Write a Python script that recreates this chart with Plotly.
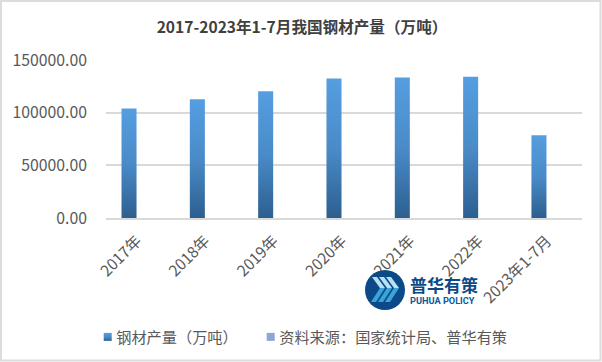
import plotly.graph_objects as go

W, H = 602, 362
categories = ["2017年", "2018年", "2019年", "2020年", "2021年", "2022年", "2023年1-7月"]
production = [104000, 112700, 120300, 132500, 133500, 134000, 78500]
title_text = "2017-2023年1-7月我国钢材产量（万吨）"
series_name = "钢材产量（万吨）"
source_name = "资料来源：国家统计局、普华有策"
tick_vals = [0, 50000, 100000, 150000]

FONT = "Noto Sans CJK SC"
L, R, T, B = 106, 582, 60, 218

fig = go.Figure()
fig.add_bar(x=categories, y=production, name=series_name, width=0.22,
            marker=dict(color="#3f7fbc", line_width=0))
fig.add_bar(x=categories, y=[None] * 7, name=source_name, width=0.22,
            marker=dict(color="#8ea5d6", line_width=0))


def px(x):
    return (x - L) / (R - L)


def py(y):
    return (B - y) / (B - T)


def path(points):
    return "M " + " L ".join(f"{px(a):.5f},{py(b):.5f}" for a, b in points) + " Z"


shapes = [
    dict(type="rect", xref="paper", yref="paper", x0=px(1), x1=px(600.5), y0=py(1), y1=py(360.5),
         line=dict(color="#dcdcdc", width=2), layer="below"),
    dict(type="circle", xref="paper", yref="paper", x0=px(365), x1=px(405), y0=py(310), y1=py(270),
         fillcolor="#0b4a86", line_width=0, layer="above"),
]
for x0 in (375, 382, 389):
    shapes.append(dict(type="path", xref="paper", yref="paper", layer="above", line_width=0, fillcolor="#3aa3d8",
                       path=path([(x0 + 5, 288), (x0 + 10, 288), (x0 + 1, 302), (x0 - 4, 302)])))
    shapes.append(dict(type="path", xref="paper", yref="paper", layer="above", line_width=0, fillcolor="#b5e2f4",
                       path=path([(x0 - 3, 277), (x0 + 2, 277), (x0 + 10, 288), (x0 + 5, 288)])))

annotations = [
    dict(text="<b>普华有策</b>", xref="paper", yref="paper", x=px(408), y=py(284), xanchor="left", yanchor="middle",
         showarrow=False, font=dict(family=FONT, size=17, color="#0b4a86")),
    dict(text="<b>PUHUA POLICY</b>", xref="paper", yref="paper", x=px(408), y=py(300), xanchor="left", yanchor="middle",
         showarrow=False, font=dict(family="Roboto", size=9.2, color="#0b5a9a")),
]

fig.update_layout(
    width=W, height=H, autosize=False,
    margin=dict(l=L, r=W - R, t=T, b=H - B, autoexpand=False),
    paper_bgcolor="white", plot_bgcolor="white",
    font=dict(family=FONT, color="#595959"),
    title=dict(text=f"<b>{title_text}</b>", x=302 / W, xanchor="center", y=1 - 28 / H, yanchor="middle",
               font=dict(family=FONT, size=15.6, color="#404040")),
    barmode="overlay",
    showlegend=True,
    legend=dict(orientation="h", x=0, xanchor="left", y=py(337), yanchor="middle",
                font=dict(size=15.2, color="#595959"), itemwidth=30, traceorder="normal",
                itemclick=False, itemdoubleclick=False),
    shapes=shapes,
    annotations=annotations,
    xaxis=dict(type="category", categoryorder="array", categoryarray=categories,
               range=[-0.337, 6.63], tickangle=-45, tickfont=dict(size=15.5, color="#595959"),
               showgrid=False, ticks="", showline=True, linecolor="#d9d9d9", linewidth=1.5, ticklen=0,
               ticklabelstandoff=6, ticklabelshift=8),
    yaxis=dict(range=[0, 150000], tickvals=tick_vals, tickformat=".2f",
               tickfont=dict(size=15.8, color="#595959"), showline=False, zeroline=False,
               gridcolor="#d9d9d9", gridwidth=1.5, ticks="", ticklabelstandoff=18),
)

post = """
var gd = document.getElementsByClassName('plotly-graph-div')[0];
document.body.style.margin = '0';
var NS = 'http://www.w3.org/2000/svg';
var svg = gd.querySelector('svg.main-svg');
var defs = svg.querySelector('defs');
var g = document.createElementNS(NS, 'linearGradient');
g.setAttribute('id', 'barGrad'); g.setAttribute('x1','0'); g.setAttribute('y1','0'); g.setAttribute('x2','0'); g.setAttribute('y2','1');
[['0','#559ee0'],['0.5','#4a8bc8'],['1','#2c5f8f']].forEach(function(s){
  var st = document.createElementNS(NS,'stop'); st.setAttribute('offset',s[0]); st.setAttribute('stop-color',s[1]); g.appendChild(st);
});
defs.appendChild(g);
var first = gd.querySelector('.barlayer .trace.bars');
if (first) first.querySelectorAll('path').forEach(function(p){ p.style.fill = 'url(#barGrad)'; p.style.fillOpacity = 1; });

// legend placed like the reference: small square swatches close to their text
var legend = gd.querySelector('.legend');
var ty = +(legend.getAttribute('transform').match(/,\\s*([-\\d.]+)/) || [0,0,0])[1];
legend.setAttribute('transform', 'translate(0,' + ty + ')');
var clip = legend.querySelector('.scrollbox'); if (clip) clip.removeAttribute('clip-path');
var bg = legend.querySelector('rect.bg'); if (bg) bg.style.display = 'none';
var starts = [103.7, 266.7];
legend.querySelectorAll('.traces').forEach(function(t, i){
  var y = +(t.getAttribute('transform').match(/,\\s*([-\\d.]+)/) || [0,0,0])[1];
  t.setAttribute('transform', 'translate(' + starts[i] + ',' + y + ')');
  var lp = t.querySelector('.legendpoints');
  lp.setAttribute('transform', 'translate(4,0)');
  var sw = lp.querySelector('path');
  sw.removeAttribute('transform');
  sw.style.transform = 'none';
  sw.setAttribute('d', 'M4,4H-4V-4H4Z');
  sw.style.strokeWidth = 0;
  if (i === 0) sw.style.fill = 'url(#barGrad)';
  t.querySelector('text').setAttribute('x', 12.5);
  var tog = t.querySelector('.legendtoggle'); if (tog) tog.style.display = 'none';
});
"""
fig.write_html("out.html", post_script=post, config={"displayModeBar": False})
